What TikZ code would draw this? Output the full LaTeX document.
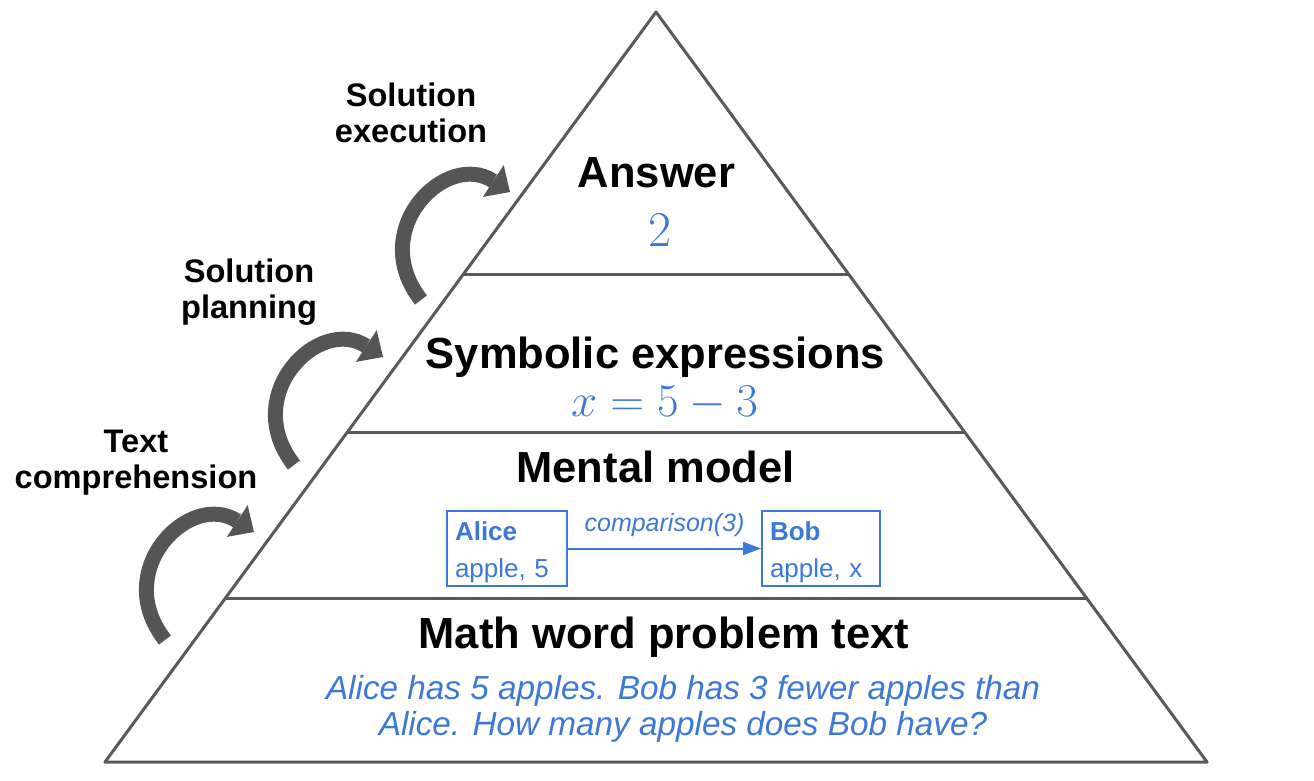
\documentclass[tikz,border=0pt]{standalone}
\usepackage{fix-cm}
\usepackage[no-math]{fontspec}
\setmainfont{Liberation Sans}
\usetikzlibrary{arrows.meta}

\definecolor{edgegray}{HTML}{595959}
\definecolor{arrowgray}{HTML}{555555}
\definecolor{textblue}{HTML}{3C78D8}

\tikzset{
  layer/.style={font=\bfseries\fontsize{43.5}{50}\selectfont, anchor=base, inner sep=0pt},
  side/.style={font=\bfseries\fontsize{32.6}{36}\selectfont, align=center, anchor=base, inner sep=0pt},
  bend arrow/.style={arrowgray, line width=15pt,
    -{Triangle[width=38pt, length=20pt, line width=0pt]}},
  entity/.style={draw=textblue, line width=2pt, text=textblue,
    minimum width=120pt, minimum height=75pt, text width=104pt,
    inner xsep=8pt, inner ysep=0pt, align=left,
    font=\fontsize{26}{37}\selectfont},
}

\begin{document}
\begin{tikzpicture}[x=1pt, y=-1pt]
  \useasboundingbox (0,0) rectangle (1314,780);

  % pyramid
  \coordinate (apex) at (656,12);
  \coordinate (bl) at (105,762);
  \coordinate (br) at (1207,762);
  \draw[edgegray, line width=3pt, line join=round] (apex) -- (bl) -- (br) -- cycle;
  \draw[edgegray, line width=3pt] (463.5,274) -- (848.5,274);
  \draw[edgegray, line width=3pt] (347.4,432) -- (964.6,432);
  \draw[edgegray, line width=3pt] (225.5,598) -- (1086.5,598);

  % layer titles
  \node[layer] (answer) at (656.5,187) {Answer};
  \node[anchor=base, inner sep=0pt, text=textblue] (ans val) at (660,246)
    {\fontsize{50}{56}\selectfont$2$};
  \node[layer] (symbolic) at (655.5,368) {Symbolic expressions};
  \node[anchor=base, inner sep=0pt, text=textblue] (sym val) at (664.5,416)
    {\fontsize{47}{56}\selectfont$x=5-3$};
  \node[layer] (mental) at (655.5,482.5) {Mental model};
  \node[layer] (problem) at (664,648.5) {Math word problem text};
  % anchor=base sits on the last line
  \node[anchor=base, inner sep=0pt, text=textblue, align=center,
    font=\itshape\fontsize{33.3}{36}\selectfont] (problem txt) at (683,735)
    {Alice has 5 apples. Bob has 3 fewer apples than\\
     Alice. How many apples does Bob have?};

  % mental model
  \node[entity] (alice) at (507,548.5) {\rule{0pt}{26pt}\textbf{Alice}\\apple, 5};
  \node[entity, minimum width=118pt, text width=102pt] (bob) at (821,548.5)
    {\rule{0pt}{26pt}\textbf{Bob}\\apple, x};
  \draw[textblue, line width=2pt, -{Triangle[width=13pt, length=18pt]}]
    (alice) -- node[anchor=base, yshift=17pt, inner sep=0pt,
      font=\itshape\fontsize{25}{30}\selectfont] (relation) {comparison(3)} (bob);

  % steps
  \node[side] (execution) at (411,142.5) {Solution\\execution};
  \node[side] (planning) at (249,318) {Solution\\planning};
  \node[side] (comprehension) at (136,488.5) {Text\\comprehension};

  \coordinate (exe-t) at (421,300);
  \coordinate (exe-h) at (510,192);
  \coordinate (pln-t) at (294,465);
  \coordinate (pln-h) at (383,357);
  \coordinate (cmp-t) at (165,640);
  \coordinate (cmp-h) at (254,532);
  \foreach \n in {exe,pln,cmp}
    \draw[bend arrow] (\n-t) .. controls +(-55,-70) and +(-64,-42) .. (\n-h);
\end{tikzpicture}
\end{document}
